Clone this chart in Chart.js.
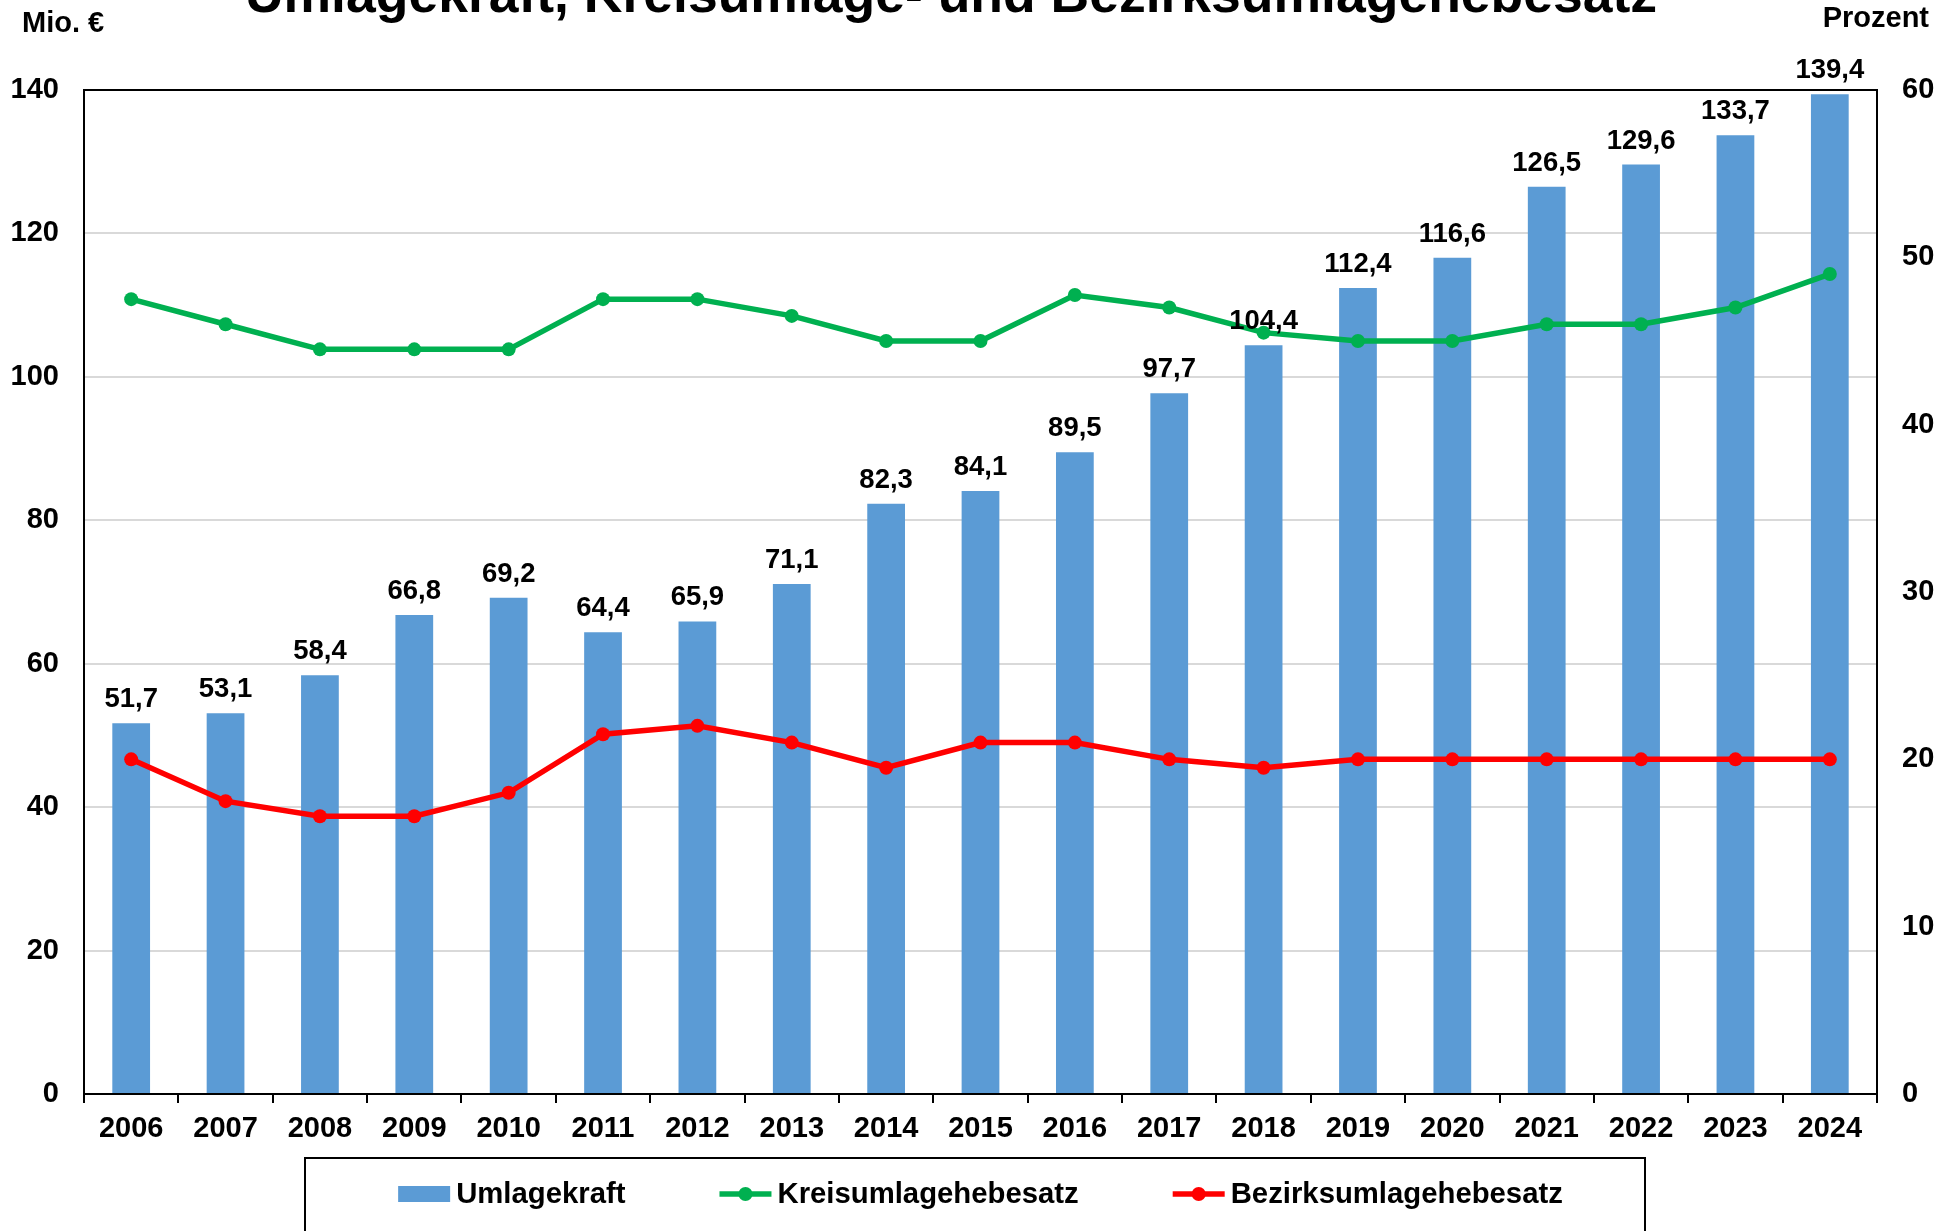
<!DOCTYPE html>
<html>
<head>
<meta charset="utf-8">
<script src="https://cdn.jsdelivr.net/npm/chart.js@4.4.1/dist/chart.umd.min.js"></script>
<style>
  html, body { margin: 0; padding: 0; background: #fff; }
  #wrap { width: 1953px; height: 1231px; }
</style>
</head>
<body>
<div id="wrap"><canvas id="chart" width="1953" height="1231"></canvas></div>
<script>
const years = ["2006", "2007", "2008", "2009", "2010", "2011", "2012", "2013", "2014", "2015",
  "2016", "2017", "2018", "2019", "2020", "2021", "2022", "2023", "2024"];
const umlagekraft = [51.7, 53.1, 58.4, 66.8, 69.2, 64.4, 65.9, 71.1, 82.3, 84.1,
  89.5, 97.7, 104.4, 112.4, 116.6, 126.5, 129.6, 133.7, 139.4];
const kreisumlage = [47.5, 46.0, 44.5, 44.5, 44.5, 47.5, 47.5, 46.5, 45.0, 45.0,
  47.75, 47.0, 45.5, 45.0, 45.0, 46.0, 46.0, 47.0, 49.0];
const bezirksumlage = [20.0, 17.5, 16.6, 16.6, 18.0, 21.5, 22.0, 21.0, 19.5, 21.0,
  21.0, 20.0, 19.5, 20.0, 20.0, 20.0, 20.0, 20.0, 20.0];
const leftTicks = [0, 20, 40, 60, 80, 100, 120, 140];
const rightTicks = [0, 10, 20, 30, 40, 50, 60];

const FONT = "Liberation Sans, Arial, sans-serif";
const BLUE = "#5b9bd5";
const GREEN = "#00b050";
const RED = "#ff0000";

function fmt(v) {
  return v.toFixed(1).replace(".", ",");
}

// title, axis captions, frame, bar labels and legend box
const extrasPlugin = {
  id: "extras",
  afterDatasetsDraw(chart) {
    const { ctx, chartArea } = chart;
    ctx.save();

    // frame top line
    ctx.strokeStyle = "#000";
    ctx.lineWidth = 2;
    ctx.beginPath();
    ctx.moveTo(chartArea.left, chartArea.top);
    ctx.lineTo(chartArea.right, chartArea.top);
    ctx.stroke();

    // bar value labels
    const barIndex = chart.data.datasets.findIndex((d) => d.type === "bar");
    const meta = chart.getDatasetMeta(barIndex);
    ctx.fillStyle = "#000";
    ctx.font = "bold 27.5px " + FONT;
    ctx.textAlign = "center";
    ctx.textBaseline = "alphabetic";
    meta.data.forEach((bar, i) => {
      ctx.fillText(fmt(umlagekraft[i]), bar.x, bar.y - 16);
    });
    ctx.restore();
  },
  afterDraw(chart) {
    const { ctx, chartArea } = chart;
    ctx.save();
    ctx.fillStyle = "#000";

    ctx.font = "bold 53.5px " + FONT;
    ctx.textAlign = "center";
    ctx.textBaseline = "alphabetic";
    ctx.fillText("Umlagekraft, Kreisumlage- und Bezirksumlagehebesatz", 951, 12);

    ctx.font = "bold 29px " + FONT;
    ctx.textAlign = "left";
    ctx.fillText("Mio. €", 22, 32);
    ctx.textAlign = "right";
    ctx.fillText("Prozent", 1929, 27);

    // legend
    const items = [
      { label: "Umlagekraft", color: BLUE, kind: "box" },
      { label: "Kreisumlagehebesatz", color: GREEN, kind: "line" },
      { label: "Bezirksumlagehebesatz", color: RED, kind: "line" },
    ];
    ctx.font = "bold 29.3px " + FONT;
    const symW = 52, symGap = 6, itemGap = 94;
    let total = 0;
    items.forEach((it, i) => {
      it.w = ctx.measureText(it.label).width;
      total += symW + symGap + it.w + (i < items.length - 1 ? itemGap : 0);
    });
    const cy = 1194;
    let x = (chartArea.left + chartArea.right) / 2 - total / 2;

    ctx.strokeStyle = "#000";
    ctx.lineWidth = 2;
    ctx.strokeRect(305, 1158, 1340, 100);

    ctx.textAlign = "left";
    ctx.textBaseline = "middle";
    items.forEach((it) => {
      ctx.fillStyle = it.color;
      ctx.strokeStyle = it.color;
      if (it.kind === "box") {
        ctx.fillRect(x, cy - 8, symW, 16);
      } else {
        ctx.lineWidth = 5.5;
        ctx.beginPath();
        ctx.moveTo(x, cy);
        ctx.lineTo(x + symW, cy);
        ctx.stroke();
        ctx.beginPath();
        ctx.arc(x + symW / 2, cy, 7, 0, Math.PI * 2);
        ctx.fill();
      }
      ctx.fillStyle = "#000";
      ctx.fillText(it.label, x + symW + symGap, cy + 1);
      x += symW + symGap + it.w + itemGap;
    });

    ctx.restore();
  },
};

new Chart(document.getElementById("chart"), {
  data: {
    labels: years,
    datasets: [
      {
        type: "line",
        label: "Kreisumlagehebesatz",
        data: kreisumlage,
        yAxisID: "y2",
        borderColor: GREEN,
        backgroundColor: GREEN,
        borderWidth: 5.5,
        pointRadius: 7,
        pointBorderWidth: 0,
        tension: 0,
        order: 1,
      },
      {
        type: "line",
        label: "Bezirksumlagehebesatz",
        data: bezirksumlage,
        yAxisID: "y2",
        borderColor: RED,
        backgroundColor: RED,
        borderWidth: 5.5,
        pointRadius: 7,
        pointBorderWidth: 0,
        tension: 0,
        order: 1,
      },
      {
        type: "bar",
        label: "Umlagekraft",
        data: umlagekraft,
        yAxisID: "y",
        backgroundColor: BLUE,
        barPercentage: 0.4,
        categoryPercentage: 1,
        order: 2,
      },
    ],
  },
  options: {
    responsive: false,
    animation: false,
    layout: { padding: { top: 90, left: 0, right: 0, bottom: 0 } },
    plugins: {
      legend: { display: false },
      tooltip: { enabled: false },
    },
    scales: {
      x: {
        grid: {
          offset: true,
          drawOnChartArea: false,
          drawTicks: true,
          tickLength: 9,
          color: "#000",
          lineWidth: 2,
        },
        border: { color: "#000", width: 2 },
        ticks: {
          color: "#000",
          font: { family: FONT, size: 29, weight: "bold" },
          padding: 9,
          maxRotation: 0,
          autoSkip: false,
        },
        afterFit: (s) => { s.height = 137; },
      },
      y: {
        position: "left",
        min: 0,
        max: 140,
        afterBuildTicks: (s) => { s.ticks = leftTicks.map((v) => ({ value: v })); },
        grid: { color: "#d9d9d9", lineWidth: 2, drawTicks: false },
        border: { color: "#000", width: 2 },
        ticks: {
          color: "#000",
          font: { family: FONT, size: 29, weight: "bold" },
          padding: 25,
        },
        afterFit: (s) => { s.width = 84; },
      },
      y2: {
        position: "right",
        min: 0,
        max: 60,
        afterBuildTicks: (s) => { s.ticks = rightTicks.map((v) => ({ value: v })); },
        grid: { drawOnChartArea: false, drawTicks: false },
        border: { color: "#000", width: 2 },
        ticks: {
          color: "#000",
          font: { family: FONT, size: 29, weight: "bold" },
          padding: 25,
        },
        afterFit: (s) => { s.width = 76; },
      },
    },
  },
  plugins: [extrasPlugin],
});
</script>
</body>
</html>
